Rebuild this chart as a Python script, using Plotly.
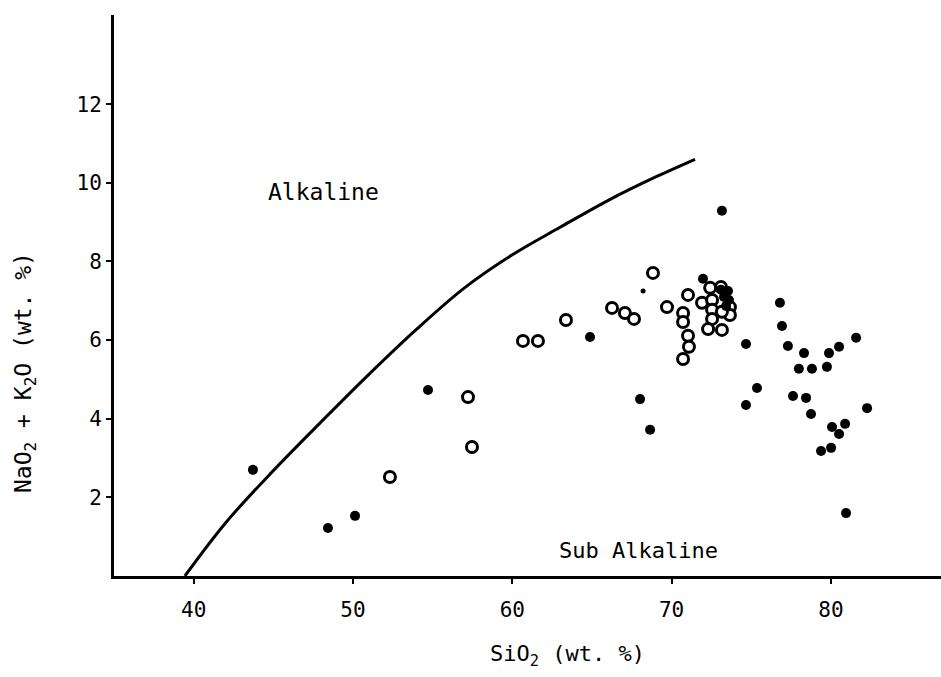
import plotly.graph_objects as go

# Boundary curve (Alkaline / Sub Alkaline divide)
curve_sio2 = [39.45, 42.0, 45.0, 48.0, 51.0, 54.0, 57.0, 60.0, 63.0, 66.0, 69.0, 71.47]
curve_alk = [0.0, 1.35, 2.68, 3.92, 5.13, 6.28, 7.33, 8.17, 8.87, 9.55, 10.15, 10.60]

# Filled symbols
filled_sio2 = [43.72, 48.43, 50.13, 54.71, 64.88, 68.02, 68.65, 73.16, 71.97, 74.67, 74.67, 75.36,
               76.80, 76.93, 77.30, 78.31, 79.88, 80.51, 81.58, 77.99, 78.81, 79.75, 77.62, 78.44,
               78.75, 82.27, 80.07, 80.89, 80.51, 79.38, 80.01, 80.95,
               73.10, 73.54, 73.29, 73.60, 73.42]
filled_alk = [2.70, 1.22, 1.53, 4.73, 6.08, 4.50, 3.72, 9.29, 7.56, 5.90, 4.35, 4.78,
              6.95, 6.36, 5.85, 5.67, 5.67, 5.83, 6.06, 5.27, 5.27, 5.32, 4.58, 4.53,
              4.12, 4.27, 3.79, 3.87, 3.61, 3.18, 3.26, 1.60,
              7.28, 7.25, 7.10, 7.02, 6.87]

# Small filled symbol
small_sio2 = [68.21]
small_alk = [7.25]

# Open symbols
open_sio2 = [52.32, 57.22, 57.47, 60.67, 61.61, 63.37, 66.26, 67.07, 67.64, 68.83, 69.71,
             71.03, 70.72, 70.72, 71.03, 71.09, 70.72,
             71.91, 72.42, 73.10, 72.54, 72.54, 72.54, 72.29, 73.16, 73.66, 73.66, 73.16]
open_alk = [2.52, 4.55, 3.28, 5.98, 5.98, 6.51, 6.82, 6.69, 6.54, 7.71, 6.84,
            7.15, 6.69, 6.46, 6.11, 5.83, 5.52,
            6.95, 7.33, 7.35, 7.02, 6.77, 6.54, 6.28, 6.26, 6.84, 6.64, 6.72]

x_ticks = [40, 50, 60, 70, 80]
y_ticks = [2, 4, 6, 8, 10, 12]

FONT = "DejaVu Sans Mono"

fig = go.Figure()
fig.add_trace(go.Scatter(x=curve_sio2, y=curve_alk, mode="lines",
                         line=dict(color="black", width=3, shape="spline", smoothing=1.0),
                         hoverinfo="skip"))
fig.add_trace(go.Scatter(x=open_sio2, y=open_alk, mode="markers",
                         marker=dict(symbol="circle", size=11, color="white",
                                     line=dict(color="black", width=3))))
fig.add_trace(go.Scatter(x=filled_sio2, y=filled_alk, mode="markers",
                         marker=dict(symbol="circle", size=10, color="black",
                                     line=dict(width=0))))
fig.add_trace(go.Scatter(x=small_sio2, y=small_alk, mode="markers",
                         marker=dict(symbol="circle", size=5, color="black",
                                     line=dict(width=0))))

fig.add_annotation(x=44.54, y=9.77, text="Alkaline", showarrow=False,
                   xanchor="left", yanchor="middle",
                   font=dict(family=FONT, size=23, color="black"))
fig.add_annotation(x=62.8, y=0.66, text="Sub Alkaline", showarrow=False,
                   xanchor="left", yanchor="middle",
                   font=dict(family=FONT, size=22, color="black"))

fig.update_layout(
    width=941, height=677,
    margin=dict(l=114, r=0, t=15, b=101),
    paper_bgcolor="white", plot_bgcolor="white",
    showlegend=False,
    font=dict(family=FONT, size=21, color="black"),
    xaxis=dict(range=[35.0, 86.91], tickvals=x_ticks, ticktext=[str(v) for v in x_ticks],
               showline=True, linecolor="black", linewidth=3, mirror=False,
               ticks="outside", ticklen=5, tickwidth=2, tickcolor="black",
               showgrid=False, zeroline=False, ticklabelstandoff=8),
    yaxis=dict(range=[0, 14.27], tickvals=y_ticks, ticktext=[str(v) for v in y_ticks],
               showline=True, linecolor="black", linewidth=3, mirror=False,
               ticks="outside", ticklen=5, tickwidth=2, tickcolor="black",
               showgrid=False, zeroline=False, ticklabelstandoff=0),
)

fig.add_annotation(text="SiO<sub>2</sub> (wt. %)", xref="paper", yref="paper",
                   x=(567 - 114) / (941 - 114), y=-(655 - 576) / (576 - 15),
                   showarrow=False, xanchor="center", yanchor="middle",
                   font=dict(family=FONT, size=22, color="black"))
fig.add_annotation(text="NaO<sub>2</sub> + K<sub>2</sub>O (wt. %)", xref="paper", yref="paper",
                   x=-(114 - 25) / (941 - 114), y=(576 - 373) / (576 - 15),
                   textangle=-90, showarrow=False, xanchor="center", yanchor="middle",
                   font=dict(family=FONT, size=23, color="black"))

fig.write_html("out.html")
